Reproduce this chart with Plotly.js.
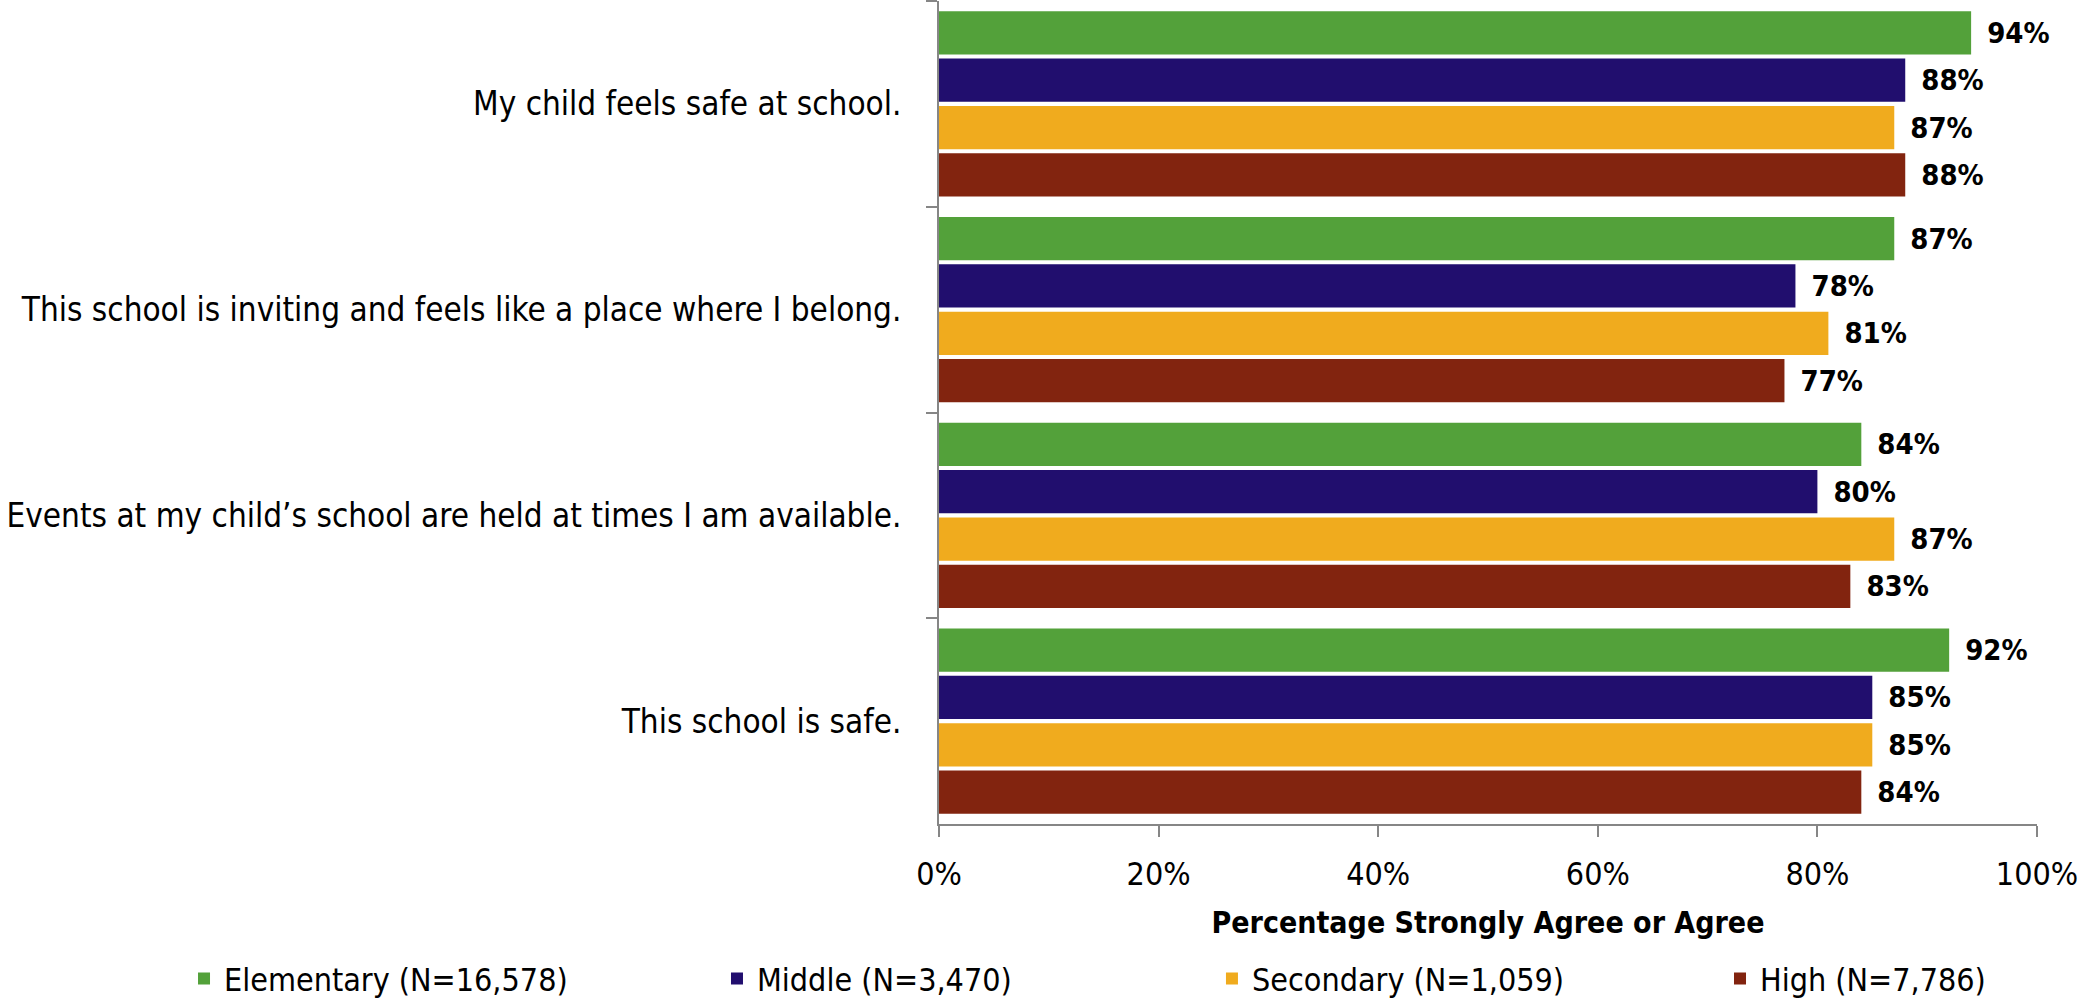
<!DOCTYPE html>
<html>
<head>
<meta charset="utf-8">
<script src="https://cdn.plot.ly/plotly-3.0.1.min.js"></script>
<style>
  html, body { margin: 0; padding: 0; background: #ffffff; }
  #chart { width: 2097px; height: 999px; }
</style>
</head>
<body>
<div id="chart"></div>
<script>
const categories = [
  "My child feels safe at school.",
  "This school is inviting and feels like a place where I belong.",
  "Events at my child\u2019s school are held at times I am available.",
  "This school is safe."
];
const seriesNames = [
  "Elementary (N=16,578)",
  "Middle (N=3,470)",
  "Secondary (N=1,059)",
  "High (N=7,786)"
];
const elementary = [94, 87, 84, 92];
const middle     = [88, 78, 80, 85];
const secondary  = [87, 81, 87, 85];
const high       = [88, 77, 83, 84];
const xTickValues = [0, 20, 40, 60, 80, 100];
const xTickLabels = ["0%", "20%", "40%", "60%", "80%", "100%"];
const colors = ["#53A13A", "#210E6E", "#F0AB1E", "#82240F"];

const FONT = '"Liberation Sans Narrow", "DejaVu Sans Condensed", "Open Sans", sans-serif';
const allSeries = [elementary, middle, secondary, high];
const legendIds = ["legend", "legend2", "legend3", "legend4"];
const legendX = [-0.6876, -0.2022, 0.2486, 0.7113];

const traces = allSeries.map((vals, i) => ({
  type: "bar",
  orientation: "h",
  name: seriesNames[i],
  legend: legendIds[i],
  x: vals,
  y: categories,
  marker: { color: colors[i], line: { width: 0 } },
  text: vals.map(v => "\u2002" + v + "%"),
  textposition: "outside",
  textfont: { family: FONT, size: 29, color: "#000000", weight: "bold" },
  cliponaxis: false,
  hoverinfo: "x+name"
}));

const layout = {
  width: 2097,
  height: 999,
  paper_bgcolor: "#ffffff",
  plot_bgcolor: "#ffffff",
  font: { family: FONT, size: 32, color: "#000000" },
  margin: { l: 939, r: 60, t: 1, b: 175, pad: 0, autoexpand: false },
  barmode: "group",
  bargap: 0.08,
  bargroupgap: 0.085,
  showlegend: true,
  xaxis: {
    range: [0, 100],
    tickvals: xTickValues,
    ticktext: xTickLabels,
    ticks: "outside",
    ticklen: 11,
    tickwidth: 2,
    tickcolor: "#868686",
    showline: true,
    linecolor: "#868686",
    linewidth: 2,
    showgrid: false,
    zeroline: false,
    ticklabelstandoff: 10,
    tickfont: { family: FONT, size: 32, color: "#000000" },
    title: {
      text: "Percentage Strongly Agree or Agree",
      font: { family: FONT, size: 30, color: "#000000", weight: "bold" },
      standoff: 20
    },
    fixedrange: true
  },
  yaxis: {
    type: "category",
    autorange: "reversed",
    ticks: "outside",
    tickson: "boundaries",
    ticklen: 11,
    tickwidth: 2,
    tickcolor: "#868686",
    showline: true,
    linecolor: "#868686",
    linewidth: 2,
    showgrid: false,
    zeroline: false,
    ticklabelstandoff: 29,
    tickfont: { family: FONT, size: 33, color: "#000000" },
    fixedrange: true
  }
};

legendIds.forEach((id, i) => {
  layout[id] = {
    orientation: "h",
    x: legendX[i],
    xanchor: "left",
    y: -0.188,
    yanchor: "middle",
    font: { family: FONT, size: 32, color: "#000000" },
    itemclick: false,
    bgcolor: "rgba(0,0,0,0)"
  };
});

Plotly.newPlot("chart", traces, layout, { displayModeBar: false, staticPlot: true });
</script>
</body>
</html>
